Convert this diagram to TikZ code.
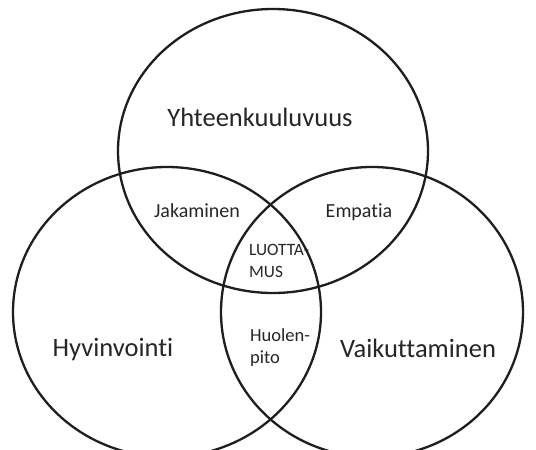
\documentclass[tikz,border=0pt]{standalone}
\usepackage{fontspec}
\setmainfont{Carlito}[Ligatures={NoCommon}]
\definecolor{ink}{HTML}{1E1E1E}
\definecolor{txt}{HTML}{262626}
\begin{document}
\begin{tikzpicture}[x=1pt,y=-1pt,
  ring/.style={draw=ink,line width=2.3pt},
  big/.style={text=txt,inner sep=0pt,anchor=base,font=\fontsize{26.5}{30}\selectfont},
  mid/.style={text=txt,inner sep=0pt,anchor=base,font=\fontsize{20}{24}\selectfont},
  small/.style={text=txt,inner sep=0pt,anchor=base west,align=left,font=\fontsize{18.5}{21.5}\selectfont}]
  \useasboundingbox (0,0) rectangle (536,450);
  \clip (0,0) rectangle (536,450);
  \fill[white] (0,0) rectangle (536,450);
  % the three overlapping sets
  \draw[ring] (273,151) ellipse [x radius=155, y radius=142];
  \draw[ring] (167,312) ellipse [x radius=154, y radius=145];
  \draw[ring] (372,312) ellipse [x radius=151, y radius=145];
  % set names
  \node[big] (yht) at (260,126) {Yhteenkuuluvuus};
  \node[big] (hyv) at (113,356) {Hyvinvointi};
  \node[big] (vai) at (418,357) {Vaikuttaminen};
  % pairwise overlaps
  \node[mid] (jak) at (197,217) {Jakaminen};
  \node[mid] (emp) at (359,217) {Empatia};
  \node[small] (huo) at (250,363) {Huolen-\\pito};
  % common core
  \node[small,font=\fontsize{17.3}{21.5}\selectfont] (luo) at (249,277) {LUOTTA-\\MUS};
\end{tikzpicture}
\end{document}
